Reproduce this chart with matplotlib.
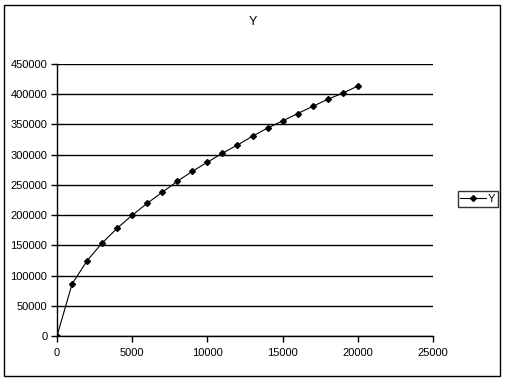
import matplotlib
matplotlib.use("Agg")
import matplotlib.pyplot as plt
from matplotlib.patches import Rectangle

plt.rcParams['font.family'] = ['Liberation Sans', 'DejaVu Sans']

# data
x_vals = [0, 1000, 2000, 3000, 4000, 5000, 6000, 7000, 8000, 9000, 10000,
          11000, 12000, 13000, 14000, 15000, 16000, 17000, 18000, 19000, 20000]
y_vals = [0, 86000, 124500, 153800, 178300, 199800, 219600, 237800, 256000,
          272500, 287500, 302500, 316000, 330500, 344000, 355800, 368000,
          379800, 391600, 401800, 413500]
x_ticks = [0, 5000, 10000, 15000, 20000, 25000]
y_ticks = [0, 50000, 100000, 150000, 200000, 250000, 300000, 350000, 400000, 450000]

fig = plt.figure(figsize=(5.08, 3.85), dpi=100)
fig.patches.append(Rectangle((4 / 508, 1 - 376 / 385), 496 / 508, 371 / 385,
                             transform=fig.transFigure, fill=False,
                             edgecolor='black', linewidth=1.0))

ax = fig.add_axes([57 / 508, 1 - 336 / 385, 376 / 508, 272 / 385])
ax.plot(x_vals, y_vals, color='black', linewidth=0.8, marker='D',
        markersize=3.0, label='Y')

ax.set_xlim(0, 25000)
ax.set_ylim(0, 450000)
ax.set_xticks(x_ticks)
ax.set_yticks(y_ticks)
ax.set_xticklabels([str(v) for v in x_ticks])
ax.set_yticklabels([str(v) for v in y_ticks])
ax.tick_params(direction='out', length=4, width=1, labelsize=8)
ax.tick_params(axis='x', pad=5)
ax.tick_params(axis='y', pad=3)
ax.grid(axis='y', color='black', linewidth=1)
ax.set_axisbelow(True)
for s in ['top', 'right']:
    ax.spines[s].set_visible(False)
for s in ['left', 'bottom']:
    ax.spines[s].set_linewidth(1)

fig.text(253 / 508, 1 - 22 / 385, 'Y', ha='center', va='center', fontsize=9)

leg = ax.legend(loc='center', bbox_to_anchor=(478 / 508, 1 - 199 / 385),
                bbox_transform=fig.transFigure, fontsize=8, frameon=True,
                fancybox=False, handlelength=2.3, handletextpad=0.2,
                borderpad=0.25, borderaxespad=0)
leg.get_frame().set_edgecolor('black')
leg.get_frame().set_linewidth(1)

fig.savefig('out.png', dpi=100)
